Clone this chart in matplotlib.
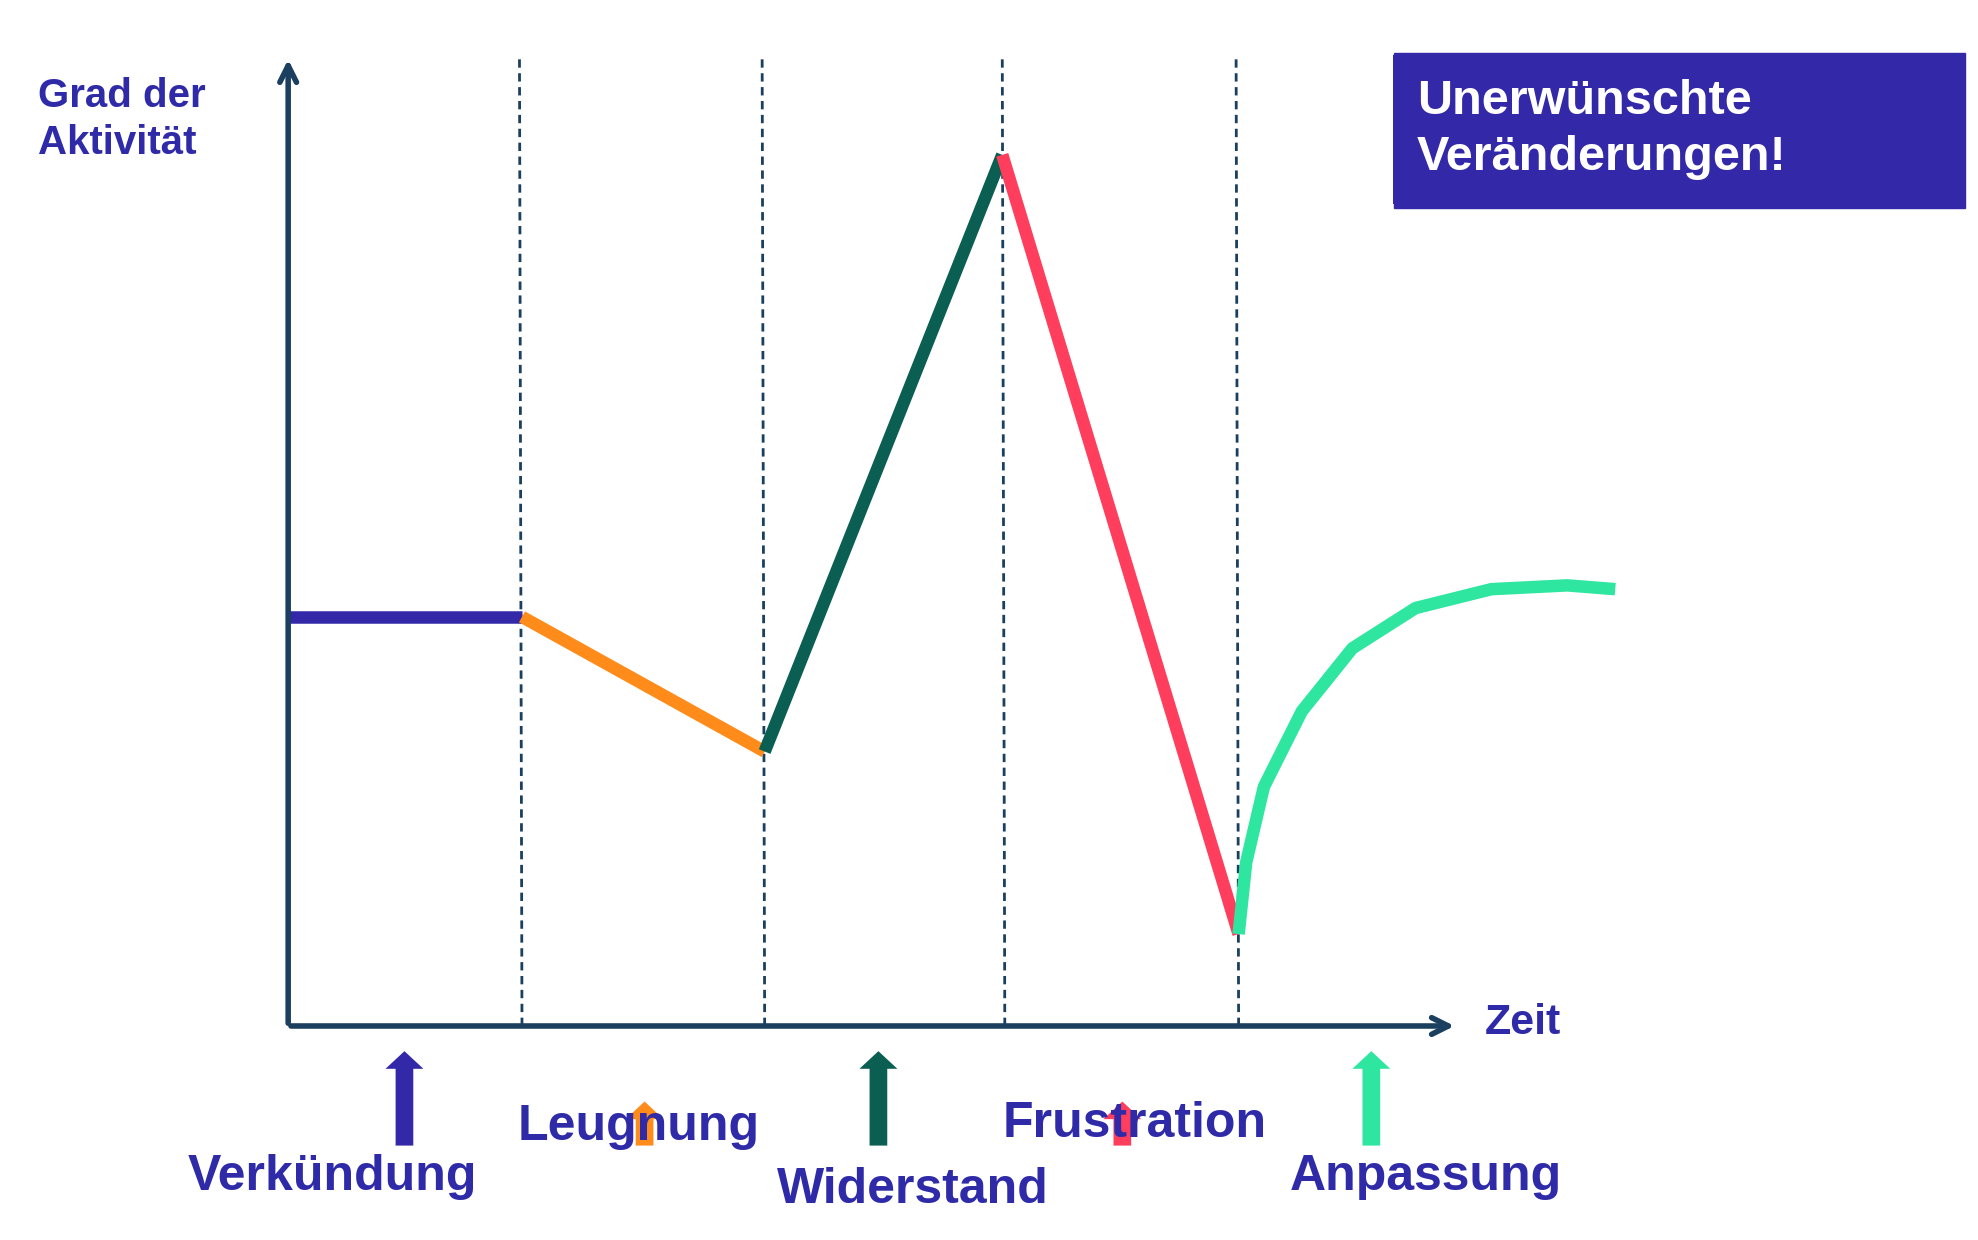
import matplotlib
matplotlib.use("Agg")
import matplotlib.pyplot as plt
from matplotlib.patches import FancyArrow

# Data (time units, activity units)
boundaries = [185, 377, 567, 752]
flat_x = [0, 185]; flat_y = [325, 325]
deny_x = [185, 377]; deny_y = [325, 218]
resist_x = [377, 565]; resist_y = [218, 692]
frust_x = [565, 752]; frust_y = [692, 73]
adapt_x = [752, 758, 772, 802, 842, 892, 952, 1012, 1050]
adapt_y = [73, 130, 190, 250, 300, 332, 347, 350, 347]
phase_labels = ["Verkündung", "Leugnung", "Widerstand", "Frustration", "Anpassung"]
arrow_x = [92, 282, 467, 660, 857]
arrow_len = [75, 35, 75, 35, 75]
label_x = [35, 277, 494, 670, 900]
label_y = [-120, -80, -130, -78, -120]
colors = ["#3228A8", "#FF8C1A", "#0B5E52", "#FF3D5C", "#2EE6A0"]
axis_c = "#1B3F5E"; text_c = "#2E2AA8"

fig = plt.figure(figsize=(19.78, 12.4), dpi=100)
ax = fig.add_axes([0, 0, 1, 1])
ax.set_xlim(-228, 1337); ax.set_ylim(-170, 815); ax.axis("off")
F = "Liberation Sans"

ax.annotate("", xy=(925, 0), xytext=(0, 0), arrowprops=dict(arrowstyle="->", color=axis_c, lw=4, mutation_scale=30))
ax.annotate("", xy=(0, 770), xytext=(0, 0), arrowprops=dict(arrowstyle="->", color=axis_c, lw=4, mutation_scale=30))
for b in boundaries:
    ax.plot([b, b-2], [0, 772], ls=(0, (3, 2)), color=axis_c, lw=2)

for (xs, ys), c in zip([(flat_x, flat_y), (deny_x, deny_y), (resist_x, resist_y), (frust_x, frust_y), (adapt_x, adapt_y)], colors):
    ax.plot(xs, ys, color=c, lw=9, solid_capstyle="butt")

for x, l, c, t, lx, ly in zip(arrow_x, arrow_len, colors, phase_labels, label_x, label_y):
    ax.add_patch(FancyArrow(x, -95, 0, l, width=14, head_width=30, head_length=14, length_includes_head=True, color=c, lw=0))
    ax.text(lx, ly, t, ha="center", va="center", fontsize=36, fontweight="bold", color=text_c, family=F)

ax.text(-198, 720, "Grad der\nAktivität", ha="left", va="center", fontsize=29, fontweight="bold", color=text_c, family=F, linespacing=1.3)
ax.text(947, 2, "Zeit", ha="left", va="center", fontsize=31, fontweight="bold", color=text_c, family=F)
ax.text(893, 712, "Unerwünschte\nVeränderungen!", ha="left", va="center", fontsize=35, fontweight="bold", color="white", family=F, linespacing=1.3,
        bbox=dict(boxstyle="square,pad=0.5", fc="#3228A8", ec="none"))
ax.add_patch(plt.Rectangle((875, 650), 452, 123, color="#3228A8", zorder=0))
fig.savefig("out.png", dpi=100)
